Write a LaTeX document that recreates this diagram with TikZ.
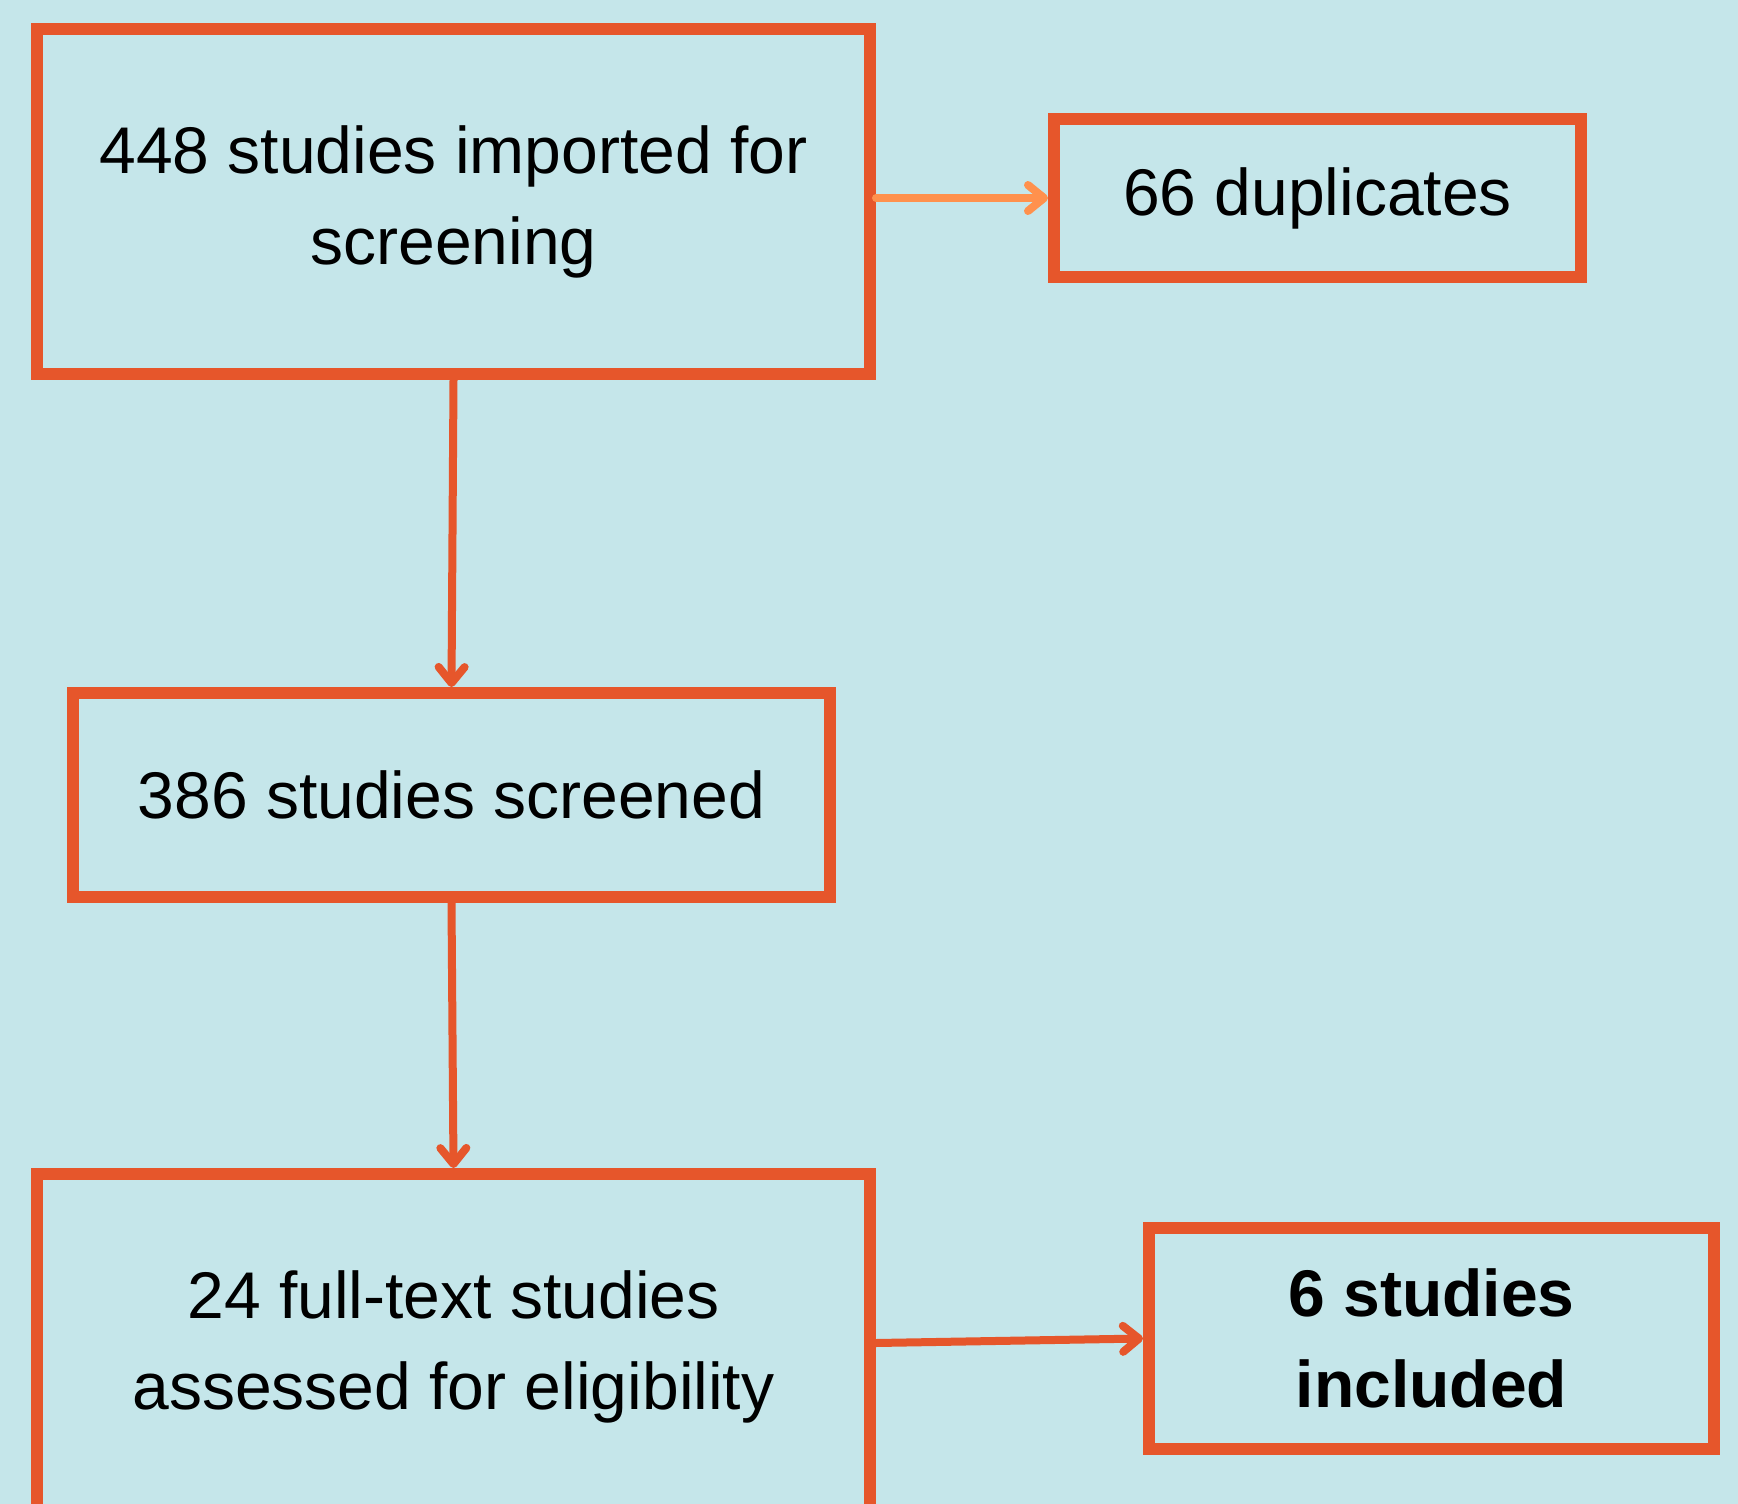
\documentclass[tikz,border=0pt]{standalone}
\usepackage{fontspec}
\setmainfont{Liberation Sans}
\usepackage{tikz}
\usetikzlibrary{arrows.meta}
\definecolor{colorBg}{HTML}{C5E6EA}
\definecolor{colorBox}{HTML}{E6562B}
\definecolor{colorDup}{HTML}{FF914D}

\begin{document}
\begin{tikzpicture}[x=1pt, y=-1pt,
		stagebox/.style={draw=colorBox, line width=12pt, align=center, inner sep=0pt,
			font=\fontsize{66}{91}\selectfont},
		flow/.style={colorBox, line width=8pt, line cap=round,
			-{Straight Barb[length=16pt, width=26pt, line cap=round, round]}},
	]
		\fill[colorBg] (0,0) rectangle (1738,1504);
		\useasboundingbox (0,0) rectangle (1738,1504);
		\begin{scope}
		\clip (0,0) rectangle (1738,1504);
		\node[stagebox, minimum width=833pt, minimum height=345pt] (imported) at (453.5,201.5)
			{448 studies imported for\\screening};
		\node[stagebox, minimum width=527pt, minimum height=158pt] (dupl) at (1317.5,198)
			{66 duplicates};
		\node[stagebox, minimum width=757pt, minimum height=204pt] (screened) at (451.5,795)
			{386 studies screened};
		\node[stagebox, minimum width=833pt, minimum height=345pt] (fulltext) at (453.5,1346.5)
			{24 full-text studies\\assessed for eligibility};
		\node[stagebox, minimum width=565pt, minimum height=221pt, font=\fontsize{66}{91}\selectfont\bfseries] (incl) at (1431.5,1338.5)
			{6 studies\\included};
		%
		\draw[flow, colorDup] (imported.east |- dupl.west) to (dupl.west);
		\draw[flow] (imported.south) to (screened.north);
		\draw[flow] (screened.south) to (fulltext.north);
		\draw[flow] ([yshift=3.5pt]fulltext.east) to (incl.west);
		\end{scope}
\end{tikzpicture}
\end{document}
